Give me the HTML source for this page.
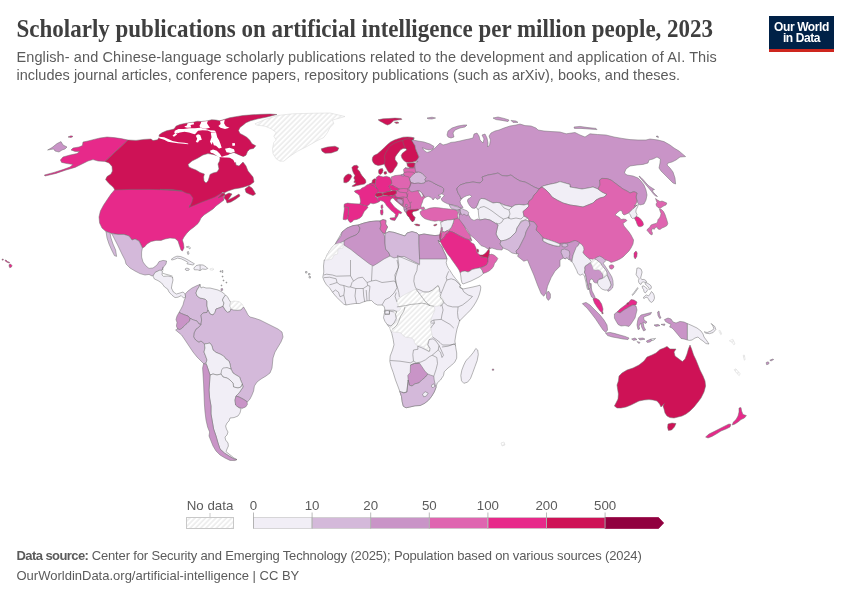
<!DOCTYPE html>
<html lang="en">
<head>
<meta charset="utf-8">
<title>Scholarly publications on artificial intelligence per million people, 2023</title>
<style>
html,body{margin:0;padding:0;background:#fff;}
body{width:850px;height:600px;position:relative;overflow:hidden;font-family:"Liberation Sans",sans-serif;color:#5b5b5b;}
#title{position:absolute;left:16.5px;top:15.5px;margin:0;font-family:"Liberation Serif",serif;font-weight:bold;font-size:23px;line-height:28px;color:#3f3f3f;white-space:nowrap;letter-spacing:0px;transform:scale(1,1.07);transform-origin:0 21.3px;}
#sub{position:absolute;left:16.5px;top:48px;margin:0;font-size:14.5px;line-height:18px;color:#5b5b5b;white-space:nowrap;}
#logo{position:absolute;left:769px;top:16px;width:65px;height:33px;background:#002147;border-bottom:3px solid #ce261e;color:#fff;font-weight:bold;font-size:12px;line-height:11.5px;text-align:center;letter-spacing:-0.4px;}
#logo span{display:block;}
#logo span:first-child{margin-top:5.7px;}
#foot{position:absolute;left:16.5px;top:546.3px;font-size:13px;line-height:20px;color:#5b5b5b;white-space:nowrap;}
#foot b{font-weight:bold;letter-spacing:-0.58px;}#f1{letter-spacing:-0.16px;}#s1{letter-spacing:0.1px;}#s2{letter-spacing:0.017px;}
svg{position:absolute;left:0;top:0;}
.lg{font-size:13.3px;fill:#5b5b5b;font-family:"Liberation Sans",sans-serif;}
</style>
</head>
<body>
<h1 id="title">Scholarly publications on artificial intelligence per million people, 2023</h1>
<p id="sub"><span id="s1">English- and Chinese-language scholarly publications related to the development and application of AI. This</span><br><span id="s2">includes journal articles, conference papers, repository publications (such as arXiv), books, and theses.</span></p>
<div id="logo"><span>Our World</span><span>in Data</span></div>
<svg id="map" width="850" height="600" viewBox="0 0 850 600">
<defs>
<pattern id="hatch" width="3.7" height="3.7" patternUnits="userSpaceOnUse" patternTransform="rotate(45)"><rect width="3.7" height="3.7" fill="#fff"/><line x1="1" y1="0" x2="1" y2="3.7" stroke="#e9e9e9" stroke-width="1.4"/></pattern>
</defs>
<!--MAP-->
<g id="countries" stroke="#6e6e6e" stroke-width="0.5" stroke-linejoin="round" fill-rule="evenodd">
<path d="M115,189.2 130,188.8 150,188.6 170,188.8 182,189.4 189,190.8 193.2,194.4 195.2,199 193,203 189,206 196,202.8 204,200 212,197 218,194 221,192.4 223.6,193.6 223.6,198 224,200 220,203 216,206 213,209 210,211 207,213 204,215 201,218 199.6,221 198,223.6 194,227 190,230 187,233 184,237 182.4,240 183.6,244 184,248 182.4,251 181,250 179.6,246 178,241 175,238.4 170,238 165,239 161,240.4 156,240.4 151,241.6 147,244 144.4,247 142.4,248 141,245 139,241 135,239 132,240 129,236 124,234.4 118,234.4 112,233.6 106,231.6 102,228 99.6,223 99,217 100.4,211 103.6,205 107.6,199 111,194 113.6,191Z" fill="#e7298a"/>
<path d="M453.5,219 457,218.5 460.5,219 463,222.5 464.5,226.5 466,229.5 468,232.5 470,235.5 471.2,238.5 470,239.5 468.5,239.5 466,239 463,237.5 459,235.5 455.5,233.5 452.5,232 449,231 450,229 451.5,227 452.5,224.5 453.5,222Z" fill="#df65b0"/>
<path d="M440.5,222.5 442,222 444,220.5 447.5,219.5 451,219 454,219 453.5,222 452.5,224.5 451.5,227 450,229 447.5,230.5 444.5,232 442.5,231.5 441.8,229 441,229 441.2,226 440.8,224Z" fill="#f1eef6"/>
<path d="M47.6,150 52,147.6 57,143.6 61,141.6 63,145 67,147 65,149 62,150 59,152 55,151 53.6,149 50,149.6Z" fill="#c994c7"/>
<path d="M68,137 71,135.8 73,136.4 71,137.6Z" fill="#e7298a"/>
<path d="M128,140 121,138.6 114,137.6 107,137 100,138 94,139.4 88,141 83,142 82.4,145.6 79,147 73,148 71,150 75,151.4 79.6,151.6 77,153.6 70,155 63,157 60.4,160 61.6,162.4 67,163.6 73,164.4 70,167 63,169.6 54,172.4 44.4,175 45,176 56,173.4 66,170 75,167.4 82,164 88,161 93,159.6 98,161 105,161.4Z" fill="#e7298a"/>
<path d="M128,140 136,140.4 144,139.4 151,139 153,140.6 153,140.6 157.5,139.8 159.3,137.2 159,135 162,132.8 166.5,130.8 171,129.8 174,129 176.2,126 180,124.5 184.5,123.5 187.5,123 193.5,122.2 197.2,121.2 201,121.5 207.8,120.8 211.5,119.7 216,120 219.8,120.8 225,119.2 229.5,117.8 235.5,116.7 243,115.5 252,114.8 261,114.3 270,114 276.9,114.5 267,117 258,118.8 250.5,120.8 246,122.7 243,125.2 240,127.5 238.5,130.5 240,133.5 243,135 246.8,137.2 249.8,140.2 252,143.7 255.8,145.8 253.5,148.5 249.8,149.2 247.5,151.5 246,155.2 243,156.8 239,155 234,152.4 229,154 227,157 235,159 236,165 239,166 243,162 246,166 248,171 253,177 254,182 250,185 244,187 240,188 234,189 228,191 222,194 218,198 224,195.6 229,193 232,194 230,197 228,200 234,197 239,194 240,196 236,199 231,202 227,203 226,200 224,198 225,194 223,192 220,194 215,197 210,199 202,202 195,205 189,207.4 190,206 192,202 193,198 190,194 186,193 182,191 172,189.4 160,189.4 182,191 170,190 150,189.4 130,189.4 115,190 113,187 109,183.6 105.6,179.6 107,176.6 111,174 112.4,171 112,166.4 109,163 105,161.4ZM188,164.4 192,161 198,158 203,155 208,153.6 213,154.4 218,156 220,158 219.6,161 218,164 219,169 217,172 213,173 210,174.4 209,178 208,181 206,183 204,181 203.6,177 204.4,174 200,172.4 196,170 192,168.4 189,167Z" fill="#ce1256"/>
<path d="M159,136.8 164.2,137.2 168.8,139.2 172.5,141 178.5,142.2 184.5,142.8 188.2,143.4 188.2,144.3 183.8,143.7 177.8,143.2 172.5,142.5 168,141.8 164.2,139.8 159.3,138.3ZM172.5,135.8 174.8,133.5 177.8,132.8 176.7,134.7 174,136.8ZM174.8,130.8 178.5,129 183.8,129 189,128.2 195,128.2 200.2,127.8 205.5,129 210,130.2 214.5,130.5 216,132 211.5,132.3 207.8,130.5 202.5,130.2 198,130.8 195,134.2 192.8,133.8 189,132.4 184.5,131.7 180,132.4 176.2,133.8 174.3,132.8ZM187.5,123.3 193.5,122.4 194.2,124.2 190.5,125 191.2,127.5 187.5,127.8 186,127.5 184.2,126.5 186.9,125.4ZM201.3,121.8 207.8,120.9 207,123.3 208.5,125.7 210,127.8 205.5,128.7 200.2,127.5 199.5,125.7 200.7,123.6ZM220.1,121.2 224.7,119.7 224.1,123.3 225.8,126.3 229.5,127.8 225,129 220.5,127.8 218.4,126 220.6,123.9ZM195.8,135.8 198,134.2 200.2,135 201,137.2 201.8,139.8 199.2,140.4 198,142.5 195.8,142.1 197.2,138.8ZM210.8,132.8 216,132.3 217.2,137.2 219,140.2 220.5,144 221.7,147.8 219,148.5 216,145.8 213.8,145.2 212.7,141.8 211.8,144.8 210,141.8 211.5,137.2ZM225,148.8 229.5,147.8 234,149.2 234.8,151.8 231,153 226.5,152.2ZM232.1,143.2 234.8,142.9 235.1,145.5 232.5,145.9ZM210,150.8 213,149.4 216.8,150.8 219.8,153.8 221.7,156.8 219.3,157.5 216,155.2 213,153.3 210.8,152.7ZM220.5,157.2 225,155.7 229.5,154.8 232.5,155.4 236.2,154.2 240,155.7 243.8,157.2 247.5,159.8 249,162.3 246,161.7 241.8,160.8 240,161.7 237.8,160.8 234.8,162.8 233.2,159.8 229.5,157.5 225,157.5Z" fill="#fff" stroke="none"/>
<path d="M245,189 249,186 252,188 254,191 255.6,194 253,195.6 249,194 246,192.4Z" fill="#ce1256"/>
<path d="M106,231.6 110,232.8 111,238 113,244 115.6,250 116.6,256.4 114.4,255.6 111.6,250 109,244 107,238Z" fill="#d4b9da"/>
<path d="M111.6,233.6 118,234.4 124,234.4 129,236 132,240 135,239 139,241 141,245 142.4,248 141.6,252 141.6,257 143,262 146,266 149,268.4 153,268 157,265 159,261.6 163,260.4 166.6,261 166,264 163.6,267 162,270 159,271 156,272 154.4,275 152,276 149,274.4 145,275 140,273.6 135,271 130,268 126,264 125,260 122.4,255 120,250 117.6,245 115,240 113,236Z" fill="#d4b9da"/>
<path d="M255,123.8 265,119.5 277.5,115.5 292.5,113.8 315,113.2 330,113 345,116.5 340,118 332.5,120 333.8,123.8 330,127.5 327.5,132.5 323.8,137.5 316.2,141.2 307.5,146.2 297.5,151.2 290,156.2 283.8,161.2 280,161.2 276.2,158.8 273,153.8 272.5,148.8 273.8,142.5 276.2,140 273.8,136.2 276.2,132.5 271.2,128.8 265,126.2 256.2,125Z" fill="url(#hatch)" stroke="#d4d4d4"/>
<path d="M321.2,148.8 327.5,147 335,146.2 338.8,148 337.5,150.8 331.2,153 325,153.2 322,151.2Z" fill="#ce1256"/>
<path d="M171.2,259.4 173.8,257.5 176.9,256.2 180.6,256.5 184.4,258.1 188.1,260 191.2,261.9 194.4,263.8 193.1,265 190,264.4 186.9,263.8 188.1,262.5 185,260.6 181.2,258.8 177.5,258.1 174.4,259.4 171.9,260Z" fill="#f1eef6"/>
<path d="M193.8,268.1 196.2,265.6 199.4,264.8 203.1,265 206.2,266.9 207.8,268.5 205.6,269.4 202.5,269 200,270.6 197.5,269.8 194.4,269.8Z" fill="#f1eef6"/>
<path d="M200,265 200.2,267.8 200,270.6" fill="none"/>
<path d="M185,269 186.9,268.1 189.4,269 188.5,270.4 186,270.4Z" fill="#f1eef6"/>
<path d="M210,268.8 212.5,268.2 214,269.2 212.5,270.2 210.2,270Z" fill="url(#hatch)" stroke="#d4d4d4"/>
<path d="M186.2,246.9 188.8,246.2 190.4,247.8 189.8,249 188.5,247.8ZM187.2,251.9 188.5,251.5 189,254 187.8,254.4Z" fill="#f1eef6"/>
<path d="M220,271 221,270.8 221,271.8 220.1,271.9ZM222,270.5 222.8,270.5 222.8,272.5 222,272.5ZM222.2,276 223,276 223,277 222.2,277ZM223.1,280 223.9,280 223.9,281 223.1,281ZM226,282.1 226.8,282.1 226.8,283 226,283ZM221.1,285 221.9,285 221.9,285.9 221.1,285.9Z" fill="#f1eef6"/>
<path d="M9.2,264.5 10.5,264 12,265.5 11.5,267 9.8,267.8 9,266ZM5,260.2 6,260 7.5,261.5 9.5,262.3 9.5,263 7.5,262.5 5.5,261.2ZM2,259.2 3.2,259 3.3,260 2.2,260.2Z" fill="#e7298a"/>
<path d="M162.5,273.1 165,274 168.8,275 172.5,276.2M163.1,280 165,280.6 167.5,279.4 170.6,278.8 173.1,277.5M166.9,288.1 169.4,288.1 171.5,288.1M172.5,291.2 173.8,293.8M162.8,266.9 162.5,270 163.5,270" fill="none"/>
<path d="M153,276 155,272.4 160,270 162.4,271 162,275 163.6,276.4 168,276 172.4,277 173,280 172,284.4 171.4,288 173.4,292 176.4,294 180,293 183,292 185.2,294 185.6,297.2 183.6,298 181.2,295.6 178,297.2 175,297.6 172,295.2 169,292 167.6,289 164.6,287 161.6,283 158,280.6 154.4,279Z" fill="#f1eef6"/>
<path d="M185.6,297.2 185.2,294 188,291 192,288 197,285.6 200,284.4 199,287 197,290 196,293 197,296 200,298 205,299 207,301 207,306 208,310 207,312.4 203,313 201,315 201.6,320 201,324.4 199,324 197,321 193.6,320 190,318.4 188,316 185,315 181.6,313.6 179,312.4 181,309 183,305 184,301Z" fill="#d4b9da"/>
<path d="M200,284.4 199,287 197,290 196,293 197,296 200,298 205,299 207,301 207,306 208,310 210,314 213,315 215,312.4 216,309 219,308 223,306.4 224,303 222.4,300 224,297 225.6,295 222,292 218,290 214,289 210,288 206,288 203,287 201,288Z" fill="#f1eef6"/>
<path d="M225.6,295 224,297 222.4,300 224,303 223,306.4 225,310 227.6,312.4 230,311.6 231,309 230,306 230.6,302 229,299.6 227.6,297Z" fill="#f1eef6"/>
<path d="M230.6,302 234,301 239,301.6 242.4,304.4 243.6,307 241,310 237,310.4 233,310 231,309 230,306Z" fill="url(#hatch)" stroke="#d4d4d4"/>
<path d="M220.9,288.8 222.5,288.5 222.8,290.2 221.2,290.8Z" fill="#c994c7"/>
<path d="M208,310 210,314 213,315 215,312.4 216,309 219,308 223,306.4 225,310 227.6,312.4 230,311.6 231,309 233,310 237,310.4 241,310 243.6,307 246,311 248,315 250,317 254,318 260,320 266,323 272,326 278,329 282,332 283,337 281,342 278,347 275,352 273,358 272.4,364 272,368 270,373 266,376 261,379 257,382 254.4,386 253.6,391 252,395 250,399 247.4,402 243,399 239,397 236,396 239,393 241,390 243,387 242.4,384 241,381 239.6,377 236,375 233,373 231,369 230,364 229,361 226,359 223.6,356 220,354 216,352.4 213,350 212,346 210,343 207,343.6 204.4,344 201,341 199,342.4 195.6,340 193.6,337 194,333 196,329 199,327 201,324.4 201.6,320 201,315 203,313 207,312.4Z" fill="#d4b9da"/>
<path d="M179,312.4 181.6,313.6 185,315 188,316 190,318.4 189.6,321 187,323.6 184.4,325.6 182.4,328 180,329.6 177.6,329 176.4,326 177,322.4 176,319.6 177,316Z" fill="#c994c7"/>
<path d="M177.6,329 180,329.6 182.4,328 184.4,325.6 187,323.6 189.6,321 190,318.4 193.6,320 197,321 199,324 201,324.4 199,327 196,329 194,333 193.6,337 195.6,340 199,342.4 201,341 204.4,344 205,348 204,352 205.6,356 207,360 206,363 204,364 201,361 197,357 193,352 189,346 185,340 181.6,335 178,332 175.6,330Z" fill="#d4b9da"/>
<path d="M204.4,344 207,343.6 210,343 212,346 213,350 216,352.4 220,354 223.6,356 226,359 229,361 230,364 231,369 227,368 223,369 221.6,374 217,375 213,374 210,375 208,369 206.4,364.4 206,363 207,360 205.6,356 204,352 205,348Z" fill="#f1eef6"/>
<path d="M223,368 227,367.6 231,369 233,373 236,375 239.6,377 241,381 242.4,384 241,387 238,388 233.6,387 233,383 230,380 227,378 223,377 221,374 221.6,370Z" fill="#f1eef6"/>
<path d="M210,375 213,374 217,375 221,374 223,377 227,378 230,380 233,383 233.6,387 238,388 241,387 242.4,384 243,387 241,390 239,393 236,396 235,400 235.6,405 238,407 241,409 240,413 238,416 234,417.6 230,418 229,421 227,423 225.6,426 226.4,429 228,432 227,435 225,437 225.6,440 228,443 228.4,446 227,449 226,451.6 229,454 234,458 237,459.6 234,459 229,456 224.4,453 220,449 218,443 216,436 213.6,429 212.4,422 211,414 211,406 209.6,398 209,390 209.6,382Z" fill="#f1eef6"/>
<path d="M203.6,363.6 206.4,364.4 208,369 210,375 209.6,382 209,390 209.6,398 211,406 211,414 212.4,422 213.6,429 216,436 218,443 220,449 224.4,453 229,456 234,459 237,459.6 235,460.6 230,460.4 225,458 220,455 216,451 213,446 211,441 209,436 209.6,432 207.6,427 206,420 205,412 204.4,404 204,394 203.6,384 203,374 202.6,368Z" fill="#c994c7"/>
<path d="M236,396 239,397 243,399 247,401.6 247.4,404.4 245.6,407 242,408.4 238,407 235.6,405 235,400Z" fill="#c994c7"/>
<path d="M391.2,176.9 395,175.6 400,175 403.1,174.8 404,172.5 403.5,169.4 405,167.8 408.1,168.5 410,167.5 408.8,165.6 406.9,163.5 410,163.1 415,163.1 416.2,167.5 417.5,172.5 420,185 422.5,192.5 425,197.5 423.1,199.4 422.5,201.9 421.2,205 421,207.5 423.8,206.9 424.8,208.8 422.5,209.8 420.6,208.8 418.1,209.4 415,209.8 413.1,211.2 411.9,213.1 413.1,215.6 415,217.5 414.4,220 412.5,221.9 410.6,219.8 409.4,217.5 407.5,215.6 406.2,212.5 404.4,210 403.8,207.5 403.1,205.6 401.2,203.8 398.8,201.9 396.2,200 394.4,198.1 392.5,197.5 391.9,195.6 395,194.8 396.5,193.1 396.2,191.2 397.5,190.6 399.4,189 397.5,188.1 395,186.9 391.9,185.6 391.2,183.1 391.5,180Z" fill="#df65b0"/>
<path d="M372.5,157.5 373.8,155.6 377.5,153.8 381.2,150.6 384.4,147.5 387.5,144.4 390.6,141.9 394.4,140 398.8,138.5 403.1,137.2 407.5,136.9 411.2,137.2 414,137.8 413.5,139.4 411.9,140.6 413.1,142.5 415,145.6 415.6,148.8 416.9,151.9 418.1,155 419,156.9 417.5,159.4 415.6,161.2 412.5,161.9 408.8,162.5 406.2,162.2 403.8,160.6 401.9,158.1 401.2,155.6 402.5,153.1 405,151.2 406.9,149.8 405.6,148.5 403.1,148.5 400.6,149.8 398.8,151.9 396.9,154.4 395.2,156.9 395,159.4 396.2,161.2 397.5,163.1 396.9,165.6 395,168.1 393.8,170 392.8,171.9 390.6,173.1 388.8,172.5 387.5,170.6 386.2,168.1 385,166 384.4,164 383.1,164.4 381.2,165 378.1,165.6 375,164.4 373.1,162.5 372.2,160Z" fill="#ce1256"/>
<path d="M384.4,164 385,160 384.4,156.2 385.6,153.1 387.5,150 388.8,147.5 391.2,145 395,142.8 399.4,141.2 402.5,140.6M406.9,149.8 405,147.5 403.8,145 403.1,142.5 402.5,140.6 405,139.4 408.8,138.5 411.9,140.6" fill="none"/>
<path d="M378.1,119.8 383.1,118.8 388.8,118.5 395,118.1 401.2,118.5 401.9,119.4 397.5,120 393.8,120.6 391.9,122.5 390,124 387.5,125 385,124 382.5,122.5 380,121.2ZM394.4,122.2 397.5,121.9 399,122.9 396.2,123.5Z" fill="#ce1256"/>
<path d="M378.8,169.8 380.6,168.8 382.5,168.5 383.1,170.6 382.2,173.1 380.6,174.4 379,173.8 378.5,171.9ZM384,171.9 386.2,171.5 386.9,173.5 385,174.4 384,173.5Z" fill="#ce1256"/>
<path d="M406.9,163.5 410,163.1 413.1,162.8 415,163.1 414.8,165.6 413.1,167.8 410,167.5 407.5,166.2Z" fill="#ce1256"/>
<path d="M351.9,167.5 353.8,165.6 356.9,165.2 358.5,166.9 357.2,169 359.4,171 360.6,173.5 361.9,175.6 364,178.1 365.6,180 366,182.5 364.4,184 360.6,184.8 356.9,185.6 353.8,186.5 351.9,186.2 354.4,184.4 356.2,183.1 353.8,182.2 355,180 353.8,178.1 355,175.6 353.5,173.1 352.5,170.6Z" fill="#ce1256"/>
<path d="M343.8,178.1 345.6,175.6 348.1,174 350.6,174.4 351.9,176.2 350.6,178.8 348.8,181.2 346.2,182.8 343.8,182.5Z" fill="#ce1256"/>
<path d="M354.4,191 356.9,190 360,189.8 361.9,188.1 364.4,186.9 366.9,185 369.4,184 371.2,183.1 373.8,185.6 375.6,187.5 378.1,188.5 378.8,189.4 378.1,191.9 376.9,193.8 375.6,195 375,196.5 376.9,197.5 377.5,200 378.8,201.9 376.2,203.1 373.1,203.8 370.6,203.1 368.8,205 366.9,206.2 364.4,205.6 361.9,204.8 360,204 360.6,201.2 360,198.1 359.4,195.6 357.5,193.8 355,192.2ZM381.2,205.2 382.5,204.8 382.9,207.5 381.9,209 381,207.5Z" fill="#e7298a"/>
<path d="M344.4,204 347.5,203.1 351.2,203.5 355,203.8 360,204 361.9,204.8 364.4,205.6 366.9,206.2 368.1,207.2 366.2,209.4 364.4,211.2 363.1,213.8 361.9,216.2 360,218.1 356.9,219.4 353.8,220 351.9,221.9 350,222.5 348.5,220.6 347.5,218.8 348.1,215 348.5,211.2 348.5,207.5 345.6,207.2 344,206Z" fill="#e7298a"/>
<path d="M344,206 345.6,207.2 348.5,207.5 348.5,211.2 348.1,215 347.5,218.8 345.6,219.8 343.1,219.4 343.5,215.6 344,211.9 344.4,208.8Z" fill="#e7298a"/>
<path d="M369.4,184 371.9,182.9 375.2,183.5 375.6,186.2 378.1,188.5 375.6,187.8 373.8,185.9 371.2,185Z" fill="#e7298a"/>
<path d="M371.9,182.9 372.5,180 374.4,178.8 376,179 375.6,181.2 375.2,183.8Z" fill="#ce1256"/>
<path d="M376.2,177.5 378.8,175.6 380.6,176.2 383.1,176.9 386.2,176.2 390,177.5 391.2,180 391.9,183.1 390.6,185 388.8,186.2 390,188.1 391.2,190 390,191.2 386.9,191.9 383.8,192.8 380.6,192.8 378.1,192.2 378.1,190 376.9,188.1 375.6,186.2 375.2,183.8 375.6,181.2 376.2,179.4Z" fill="#e7298a"/>
<path d="M388.8,186.2 390.6,185 393.1,185.6 395,186.9 397.5,188.1 399.4,189 397.5,190.6 395,191 393.1,190.6 391.2,190 390,188.1Z" fill="#e7298a"/>
<path d="M375.6,194 378.1,192.8 381.2,192.9 383.1,193.5 382.8,195.6 380,196.5 377.5,196.9 375.6,196.2Z" fill="#ce1256"/>
<path d="M383.1,193.1 386.9,192 390,191.2 393.1,190.6 396.2,191 396.5,193.1 395,194.8 391.9,195.6 388.8,196 385.6,195.6 383.1,195.2Z" fill="#ce1256"/>
<path d="M391.6,195.9 393.4,195.3 395.6,195.5 396,196.4 395.6,197 394.2,198.5 392.7,198.1 391.8,197.5Z" fill="#e7298a"/>
<path d="M394.2,198.6 395.6,196.8 397.1,197.2 398.9,197.7 400.8,197.9 402.2,198.1 402.6,199 401.1,199 398.9,199 397.1,199.2 396,199.6 397.1,200.8 398.6,202.3 400.4,203.8 402.2,205.2 403.3,206.3 402.6,206.5 401.1,205.2 399.3,203.8 397.5,202.3 395.6,200.8 394.5,199.7Z" fill="#e7298a"/>
<path d="M405.5,204.5 407,204.3 407.7,205.2 407.2,206.5 405.9,206.3Z" fill="#c994c7"/>
<path d="M377.5,197.5 380,196.9 383.1,195.8 386.2,196 389.4,196 391.9,196 392.5,198.1 390.6,199.4 390,201.2 391.9,203.8 394.4,206.9 397.5,209.4 400,211.2 401.9,212.5 401,213.8 398.8,213.1 398.1,215 396.9,217.5 395.6,218.1 395,216.2 395.6,214.4 393.8,212.5 391.2,210.6 388.8,208.1 386.5,205.6 385,203.1 383.1,201.2 380.6,200.6 378.8,201.9 377.5,200ZM390,218.1 393.1,217.8 396.2,217.2 396,218.8 394.8,220.6 391.9,220 390,219ZM380.6,210 382.8,209.4 383.1,212.5 382.5,215 381,214.8 380.4,212.5Z" fill="#e7298a"/>
<path d="M396.5,199.4 398.8,198.8 401.9,199.4 403.1,201.9 402.5,204.4 400.6,203.8 398.1,201.9Z" fill="#c994c7"/>
<path d="M403.8,207.2 405.6,206.9 406.9,209.4 406.5,212.2 405,211.9 404.1,209.8Z" fill="#c994c7"/>
<path d="M406.2,212.5 408.1,210 411.9,209.4 415,209.4 418.1,209 418.8,210 416.2,211 413.1,211.5 411.9,213.1 413.1,215.6 415,217.5 414.4,220 412.5,221.9 410.6,219.8 409.4,217.5 407.5,215.6ZM414.4,224.4 416.9,224 419.8,224.8 419.4,225.9 416.2,225.6Z" fill="#ce1256"/>
<path d="M409.4,178.8 411.9,175.6 415.6,172.5 418.8,171.9 421.9,173.1 424.4,175.6 426.2,177.5 425,179.4 425.6,181.2 424.4,183.1 421.2,183.5 418.1,183.1 414.4,183.5 411.2,182.5 409.8,180.6Z" fill="#d4b9da"/>
<path d="M409.8,186.9 411.2,182.9 414.4,183.5 418.1,183.1 421.2,183.5 424.4,183.1 425.6,181.2 428.8,180.6 431.9,181.9 435,183.8 438.8,185.6 441.9,186.9 443.8,188.8 443.5,191.9 441.9,193.8 439.4,194.8 438.1,195.4 440.6,196.2 440,198.1 437.5,199.4 435.6,198.1 435,197.5 433.1,200 431.2,197.5 428.1,196.2 425,197.5 423.8,195.6 421.9,193.1 420,191.2 418.1,190.6 415,191.2 411.9,191.9 409.4,190.6 408.8,188.8Z" fill="#c994c7"/>
<path d="M418.1,190.6 420,191.2 421.9,193.1 423.1,195.6 422.5,197.5 421.2,196.9 420,194.4 418.8,192.5Z" fill="#f1eef6"/>
<path d="M420,211.9 422.5,210 426.2,209.4 430,208.1 434.4,207.5 438.8,207.8 443.8,208.5 448.8,209 453.1,209.4 456.2,210 458.1,212.5 457.5,215.6 458.1,218.1 455,218.8 451.2,219.8 447.5,220 443.8,220.6 441.9,221.5 438.8,220.6 435,221.2 431.2,220.6 428.1,219.8 425,218.8 422.5,216.9 420.6,214.4Z" fill="#df65b0"/>
<path d="M433.5,225.2 435,224.4 436.9,224.1 436.5,225.2 434.8,226Z" fill="#ce1256"/>
<path d="M403.1,174.8 405,176 408.8,176.9 410,180 410.6,183.8 409.4,186.9 407.5,188.8 403.8,188.5 400,188.8 399.4,189M404,172.5 407.5,171.9 413.1,172.2 415,173.8M405,167.8 410,168.1 415,167.8M407.5,188.8 408.1,191.2 406.2,192.8 407.5,196.2 406.9,197.5M397.5,190.6 400,192.2 406.2,192.8M395,197.5 398.8,197.5 403.1,196.9 406.9,197.5 408.1,193.1M403.1,196.9 403.5,201.2 403.1,205.6M406.9,197.5 408.8,201.2 410,203.1 410.6,206.9 406.2,208.8 404.4,210M410,203.1 411.9,201.9M410.6,206.9 410,209.4M406.2,208.8 406.9,209.4" fill="none"/>
<path d="M413,140 418,141 424,142 430,144 434,146.4 433,149 429,150 425,149 422.4,147.6 423.6,150 427,152.4 430,151.6 435,148 438,145 440,143 443,145 447,144 451,142.4 455,142 460,141 464,140 469,139 473,138 474,134 477,133 479,136 480,140 483,143 484,139 482,135 485,134 487,138 488,143 487.6,147 489.6,145 490.4,140 489,136 491,133 495,131 499,130 504,128 510,126 516,125 520,124 525,125.6 531,126 536,128 538,130 544,131 552,131.6 560,132 566.2,133.8 575,132.5 580,135 585,137 590,133.8 597.5,134.5 606,135 614,137 622,138.4 630,139.6 638,140 646,140 650,139 658,140 664,141.6 670,145 674,148 679,151 683,154.4 685.6,156.6 680,157 676,160 672,162 668,163 667,165 670,168 673,172 675,178 675.6,184 673,183 669,179 665,175 661,171 659,168 660,163 660.4,159 657,157 653,159 649,160 648,163 643,164.4 637,165 630,166 626,169 624.4,173 627,175 633,176 638,178 641,181 644,185 646,190 647,195 646,200 644,204 640,205 638,203.6 637,201 636,197 637,193 634,191.6 630,193 627,191 623,189 619,186 615,183 611,180 607,178.6 602,178.4 599.6,180 600,185 598,189 593,187 588,188 582,189 576,188 570,187 570,184.4 565,183 560,181.6 556,183 549,184.4 543,186 539,189 534,187 529,184 525,182 520,181 515,178 511,175 507,176 502,175.6 498,173 494,174 488,175 482,177 483,180 480,183 473,182 466,183 460,185 457,188 457,190 458,193 460,196 461,199 462.5,197.5 460,201.2 460.6,203.8 463.1,207.5 460.6,208.1 457.5,206.2 453.8,205.2 450,204.4 447.5,203.8 443.8,201.9 441.9,200.6 441.2,198.8 442.5,197.5 444.4,195.6 441.9,193.8 443.5,191.9 443.8,188.8 441.9,186.9 438.8,185.6 435,183.8 431.9,181.9 428.8,180.6 425.6,181.2 425,179.4 426.2,177.5 424.4,175.6 421.9,173.1 418.8,171.9 415.6,171.9 415,167.8 415,167.8 414.8,165.6 415,163.1 416.2,162.5 418.1,161.5 415.6,161.2 417.5,159.4 419,156.9 418.1,155 416.9,151.9 415.6,148.8 415,145.6 413.1,142.5 411.9,140.6 413.5,139.4 414,137.8Z" fill="#c994c7"/>
<path d="M401,174.8 403.1,174.2 404.5,175 404,176 401.5,175.9Z" fill="#c994c7"/>
<path d="M447,135 448,131 452,128 458,126 464,125 467,125 465,127 460,128 455,130 453,133 454,137 451,138 448,137Z" fill="#c994c7"/>
<path d="M427,118 432,117.2 435.6,118 432,119 428,118.8ZM493,118 498,117 504,118.4 509,120 508,121.6 502,120.4 496,119.6ZM511,120.4 516,121 518,122.4 513,122.4ZM574,127 580,126.4 588,127.6 596,128.4 597,129.6 589,129 581,128.4 574.4,128.4ZM656,136.4 658,136 658.4,137.6Z" fill="#c994c7"/>
<path d="M457,188 460,185 466,183 473,182 480,183 483,180 482,177 488,175 494,174 498,173 502,175.6 507,176 511,175 515,178 520,181 525,182 529,184 534,187 539,189 537,192 534,195 532,199 529,201 528,204 524,205 519,204.4 515,205 512,207 508,206 504,205 500,203 497,202.4 493,203 489,201 485,199 481,198.4 479,201 477.6,205 476,207.4 474.4,208.4 472,208 470,206 468.4,203.6 467.4,201 468,199 470,198 471.6,196.4 470,195 467,195.6 464,197 461,199 460,196 458,193 457,190Z" fill="#c994c7"/>
<path d="M476,207.4 477.6,205 479,201 481,198.4 485,199 489,201 493,203 497,202.4 500,203 504,205 508,206 512,207 515,205 519,204.4 524,205 528,204 529,206 526,209 523,211.6 524,216 528,218 525,220 521,221 519,225 517,228 516,232 513,235 510,238 506,240 501,241 498,238 496,234 497,229 498,225 495,223 490,220 485,219 480,220 479,218 478.6,215 478.2,210 477,208Z" fill="#f1eef6"/>
<path d="M461,210 464,212 468,214 471,219 474,220.4 477.6,219 480,220 485,219 490,220 495,223 498,225 497,229 496,234 498,238 501,241 500,244 503,248 502,250 497,249.6 492,248 488,249 485,247 481,245.6 478,242 474,238 470,235 468,231 465,227 462,223 459,219 459,214Z" fill="#c994c7"/>
<path d="M501,241 506,240 510,238 513,235 516,232 517,228 519,225 521,222 525,220 529,221 530,225 528,228 526,232 525,236 523,240 521,244 519,248 516,251 517,254 512,253 508,250 503,248 500,244Z" fill="#d4b9da"/>
<path d="M539,189 543,186 549,184.4 556,183 560,181.6 565,183 570,184.4 570,187 576,188 582,189 588,188 593,187 598,189 602,192 607,194.4 604,197 600,198 596,200 593,203 588,205 583,207 577,206 570,205 570,205 563,203 557,200 552,197 549,193 546,190 542,187Z" fill="#f1eef6"/>
<path d="M639,176 641,177.5 643.5,180 646,183 649,186 652,188 654.5,189.5 652.5,190 653,192 655.5,194.5 657.5,196.5 655.5,196 653.5,194 651.5,191.5 649.5,189 647,186 644.5,183 642,180 639.8,177.5Z" fill="#c994c7"/>
<path d="M628.5,213 630.5,211 633,208.5 635.5,206.5 637,205 638.5,204.5 637.5,207 636.2,209.5 635.8,212 637,214.5 636.5,216.5 634.5,218 632.5,218.5 631,217 630.5,215Z" fill="#f1eef6"/>
<path d="M634.5,218 636.5,216.5 639,217.5 641,219.5 642.8,222 643.5,224.5 642.5,226 640,226.8 638.2,226.2 637,224 636.2,221.5 635.2,219.8Z" fill="#e7298a"/>
<path d="M655.5,198.5 657.5,200 660,201.5 662,201 664.5,202 666.8,203 666,205 664,205.8 662,207 660,208.5 658,207.5 656.5,206 656,204 657,202.5ZM659.5,209 661.5,209.5 663.5,211.5 665,214.5 666,217.5 667,220.5 667.8,223.5 667,225.5 664.5,227 662,228 660,229.5 658,229 657,227 655.5,227.5 654,229.5 653,228 652,229.5 651.5,231 652.5,233 652,235 650,234 648.5,232 647,230.5 647.5,229 649.5,227.5 651,225 653.5,224 656,223.5 657.5,222 658,219.5 659.5,218 660.5,216 661,213.5 660,211Z" fill="#df65b0"/>
<path d="M477.8,210 480,207.5 484,206.5 488,208.5 492,211 496,214 500,217 503.5,219M496,223 499,224 502,222 503.5,219 507,218 510,217M500,203 504,208 509,210 512,207M509,210 510,214 508,218 511,219 516,218 521,219 524,216" fill="none"/>
<path d="M528,218 524,216 523,211.6 526,209 529,206 528,204 529,201 532,199 534,195 537,192 539,189 542,187 546,190 549,193 552,197 557,200 563,203 570,205 570,205 577,206 583,207 588,205 593,203 596,200 600,198 604,197 607,194.4 602,192 598,189 600,185 599.6,180 602,178.4 607,178.6 611,180 615,183 619,186 623,189 627,191 630,193 634,191.6 637,193 636,197 637,201 636,204 634,206 637,205 635.5,206.5 633,208.5 630.5,211 628.5,213 626.5,214 624,215 622.5,213.5 622,211 620,210.5 617.5,212.5 615,215 617,216 619.5,217.5 621,219.5 623.5,219 626,219.5 627,220.5 625,222 623,223.5 624,226 626.5,229 629,232 631,235 633.6,240 633,244 631,248 629,251 626,254 623,257 620,259 617,260.4 614,261.6 611,262.4 609,261 606,260 603,259 600,257 597,258 594,260 592,259 590,259 586.4,257 583,253 581.2,249 580,245.6 579.2,243.2 579,242.4 576,241.6 573,241 570,242.4 566,243.6 561,244 560,244 554,241.6 548,239.6 543,238 540,234 536,230 537,226 534,222 529,221Z" fill="#df65b0"/>
<path d="M634,253 636,251 637.2,253 636.8,256.4 635.2,259 634,257Z" fill="#e7298a"/>
<path d="M529,221 534,222 537,226 536,230 540,234 543,238 543,241 548,243.6 554,245.6 559.6,246.4 560,244 560,243.4 563,243 567.5,243 572,241.9 575,240.4 578,241.5 579.5,243 578.4,245.2 576.9,247.5 575.4,250.5 573.9,253.5 572.8,256.5 572,259.5 571.2,261.8 570.5,259.9 570.1,259.5 569,259.9 567.1,257.6 565.2,258.8 563.4,258 561.5,259.1 560,259.9 560,266.2 555,271.2 551.2,277.5 547.5,286.2 546.2,292.5 543.8,296.2 541.2,293.8 537.5,285 533.8,275 530,266.2 527.5,260 523.8,261.2 517.5,256.2 518.8,253.8 517,254 516,251 519,248 521,244 523,240 525,236 526,232 528,228 530,225Z" fill="#c994c7"/>
<path d="M543,238 548,239.6 554,241.6 560,244 559.6,246.4 554,245.6 548,243.6 543,241Z" fill="#f1eef6"/>
<path d="M561.9,244.1 564.5,243.4 567.5,244.1 567.9,246 565.2,247.1 562.2,246.6Z" fill="#d4b9da"/>
<path d="M561.5,249.8 564.5,249 567.5,250.1 569.4,251.2 569.8,254.2 569,257.2 570.1,259.5 569,259.9 567.1,257.6 565.2,258.8 563.4,258 562.2,255 561.1,252.4Z" fill="#d4b9da"/>
<path d="M579.5,243 581.8,244.5 583.6,247.1 584,249.8 582.9,252.4 584.4,254.6 587,256.9 588.9,258.8 590.8,260.6 591.5,261.8 589.6,263.2 587.4,264.8 585.5,265.9 584.8,267.8 585.1,270 584.4,272.2 585.5,274.5 586.2,277.5 586.6,280.5 587.4,283.5 587.9,286.5 588.5,289.5 587.6,289.5 586.6,286.5 585.9,282 585.1,279 584.4,276 583.2,274.5 582.5,274.1 580.2,275.2 578.8,274.5 577.6,273 576.9,270.8 575,267 573.1,263.2 572,262.1 572.4,258.8 573.1,255 574.6,251.2 576.1,247.5 578.4,245.2Z" fill="#f1eef6"/>
<path d="M585.5,265.9 587.4,264.8 589.6,263.2 591.5,264 592.6,266.2 593.4,269.2 595.2,270 598.2,269.6 600.5,270.8 602,273 603.1,276 602.8,278.2 600.9,279 599,279.4 597.9,280.9 597.5,283.1 595.2,282.8 593.8,282 593,279.8 591.5,279 590,279.8 589.6,282 590,285 590.4,288 588.5,289.5 587.9,286.5 587.4,283.5 586.6,280.5 586.2,277.5 585.5,274.5 584.4,272.2 585.1,270 584.8,267.8ZM589.2,283.6 591.2,283.6 591.4,288 592,291 593.6,294 595,297 594,299 591.6,297 590,293 589.2,288Z" fill="#c994c7"/>
<path d="M591.5,261.8 593,259.5 594.5,258.8 596.8,259.9 599,261.8 600.9,263.2 602,265.5 603.9,267.8 605.8,270 606.9,272.2 606.5,275.2 605,276.8 603.5,276 603.1,273 602,273 600.5,270.8 598.2,269.6 595.2,270 593.4,269.2 592.6,266.2 591.5,264Z" fill="url(#hatch)" stroke="#d4d4d4"/>
<path d="M594.5,258.8 596.8,257.2 599.8,256.1 602,257.2 604.2,258.8 605.8,260.6 604.6,262.1 603.1,263.2 605,265.9 607.2,269.2 609.5,273 611.8,276.8 612.9,280.5 613.2,285 612.5,288 610.2,290.2 608,291.4 607.6,289.9 609.5,288 611,285 610.2,282 608.8,279 607.6,276 606.9,272.2 605.8,270 603.9,267.8 602,265.5 600.9,263.2 599,261.8 596.8,259.9Z" fill="#d4b9da"/>
<path d="M597.9,280.9 599,279.4 600.9,279 602.8,278.2 605,276.8 606.5,275.2 607.6,276 608.8,279 610.2,282 611,285 609.5,288 607.6,289.9 605,290.2 602,289.1 599.8,287.2 598.2,285 597.5,283.1Z" fill="#f1eef6"/>
<path d="M609.1,265.9 611,264.8 612.9,265.1 614,266.2 613.4,268.1 611.8,269.2 609.9,268.5Z" fill="#df65b0"/>
<path d="M546.4,293 548.4,291 550.4,294 550.4,298 548.4,300.4 546.6,298Z" fill="#c994c7"/>
<path d="M593,299 595.6,298 599,300 601.6,304 603,309 602.4,313 600,311 597,307 594.4,303ZM617,312 620,309 624,306 628,303 631,299.6 634,300 637,302 636,305 633,305 629,307 624,310 620,313Z" fill="#e7298a"/>
<path d="M626.8,303.2 628.4,302.6 628.8,304.2 627.4,304.6Z" fill="#ce1256"/>
<path d="M601.8,312.8 603,312.4 603.2,313.6 602,313.8Z" fill="#ce1256"/>
<path d="M582.4,303.6 586,302.4 590,305 595,310 600,315 604,320 607,325 607.6,330 605.6,332.4 603,330 599.6,325 595.6,319 591,313 587,308 583.6,305ZM605.6,333 610,332.4 615,333.6 620,335 625,336.4 629,338 628,339.6 623,339 618,338 612.4,337 607.6,335.6ZM631.6,339 635,338 637,339.6 633.6,340.4ZM638.4,338.4 643,338 645,339.2 640,340ZM637,341.6 640,342.4 639,343.6ZM646.4,341 651,339 651.6,340.8 650,342 647.2,342.4ZM614.4,314 617,312 620,313 624,310 629,307 633,305 636,306 637,310 636,314 635,318 633,321 631,324 629,326.4 625,325.6 621,326 618,324.4 616,321 614.4,318ZM638.4,318 641,315 645,314 649,313 651.6,312.4 650.4,314.4 646.4,316 643.6,317 644,320 647,322 645.6,323.6 643,322 644,327 645.6,330 643.6,331 641.6,327 641,323 639,326 639.6,329 638,329.6 637,325 637.6,321ZM657.6,312 659,311 659.6,315 661,318 659.6,318.4 658,315.6ZM654,325 658,324.4 660,325.6 656,326.4ZM661,324.4 665,324 664.4,325.6ZM664.4,319.6 668,318 671,319 673,322 676,323 680,321.4 684,322 687.4,323.6 687.4,340 684,339 681,338.4 679,336 676,332.4 674,330 672,328 669.6,327 671,324.4 668,323 665.6,321.6Z" fill="#c994c7"/>
<path d="M651,339 655.6,338.4 654,340 651.6,340.8Z" fill="#f1eef6"/>
<path d="M687.4,323.6 692,325.6 697,328 701,331 703,334 704,337 707,341 709,344 706,343.6 703,341 700,339 698,337 695,338 692,340 689.6,340.4 687.4,340ZM704.2,331.8 707.2,332.5 711,331 714,328.8 712.5,325 711,323.5 714.8,326.5 715.8,329.5 713.2,332.5 709.5,333.7 705.8,333.2Z" fill="#f1eef6"/>
<path d="M636.9,268.2 638.8,267.9 641,269 642.1,272 641.4,275 640.6,278 641.8,279.6 644,279.4 645.9,280.6 646.6,282.1 645.1,282.5 643.2,281.8 641.8,282.5 641,284.4 639.9,284 638.8,282.5 638.4,280.6 639.1,278.8 637.6,276.9 636.1,274.6 636.6,271.2ZM645.9,282.5 648.1,283.6 650.4,285.1 651.5,287 650.8,288.9 649.6,289.6 648.9,288.1 647.8,286.6 646.2,285.1 645.1,283.9ZM642.1,286.2 644,285.9 645.5,287.4 647,288.5 648.1,289.6 647,290.8 646.2,292.2 645.1,293 644,291.5 643.6,289.6 642.5,288.1ZM648.5,296 650,294.1 651.5,291.5 653,293 654.1,295.2 654.5,298.2 653.4,300.9 651.5,302.4 649.6,301.2 648.5,299 647,297.1 645.5,297.5 644,298.6 643.2,297.9 644.8,296 646.6,294.9ZM632,294.9 633.9,292.6 635.8,290 637.6,287.6 638,288.5 636.1,291.1 634.2,293.8 632.4,295.4Z" fill="#f1eef6"/>
<path d="M619,376 622,373 627,370 633,368 639,365 644,361 647,357 652,355 656,353 660,349.6 664,348 667,346.4 670,349 676,349 674,352 675,356 679,359 682.4,361.6 685,359 687,354 688.4,349 690,345 691.6,349 693.6,355 696,360 698,365 700,370 703,376 705,381 705.6,386 704,392 701,398 698,402 694,407 690,411 686,414 682,416 678,417 674,418 670,417.6 667,416 665,413 664,409 663,406 664.4,403.6 661,407 659.6,404 657,401 653,400 649,399.6 644,400 639,401 635,403 631,405 626,407 621,408 617,408 614.4,406 616,403 618,399 618.4,394 617.6,389 617,385 618.4,381ZM668,424 672,423 676,423.6 674.4,427 671.6,430 668.4,430.4 667.6,427.6Z" fill="#ce1256"/>
<path d="M739,408 741,407.6 741.6,411 743,414.4 746.4,415.6 744.4,418 741,419.6 738,422 735,424 732.4,425 733,422.4 736,419.6 738,416 739,412ZM705.6,437 709,434 714,431.6 719,429 724,426.4 729,424 731,424.4 730,427 726,429 721,431 717,433.6 712,436.4 708,438Z" fill="#e7298a"/>
<path d="M766.2,362.5 768,361.8 769.2,362.8 768.3,364.3 766.5,364.6ZM769.8,360.2 772.5,359.1 773.7,359.5 771,361Z" fill="#c994c7"/>
<path d="M734.2,369.7 735.8,368.8 740.2,373.8 739.2,375.6 736.5,373ZM718.8,330.7 720,330.2 721.8,334 720.8,334.8ZM729.3,340.8 732.8,339.2 735,343.8 733.8,344.8 732,342.2ZM743.2,355.3 744.3,355 745.2,359.5 744.3,360.2ZM501,443 504,442 505,445 502,446Z" fill="url(#hatch)" stroke="#d4d4d4"/>
<path d="M305.5,271.5 307,271.5 307,273 305.5,273ZM308.5,273.5 310,273.5 310,275 308.5,275ZM309,276.5 310.5,276.5 310.5,278 309,278Z" fill="#f1eef6"/>
<path d="M335,244.4 342,232 347,228 353,225.6 358,225 364,223 370,221.6 376,221 380,221 383,219.6 386,220.4 385.6,224 387.6,227 386,230 385,233.6 389,231.6 394,232.4 400,234.4 405,236 407,233 412,231.6 417,233 419,235 424,234 430,235 435,235.6 440,235 441,239 440,242 438,240 439,243 442,247 443.6,251 445.6,255 447,259 446.2,262.5 447,265.5 448.5,268.5 450,270.5 451.8,273.5 453.5,276 455.5,278.5 457.5,281 459.5,283.5 460.5,285 459.5,286.5 460.5,288 463,289 467,288.2 472,287.2 477,286 480,285.2 480.8,287 480.5,290 479.5,294 478,298 476,302 473.5,306 470.5,310 467,313.5 463.5,317 460,320.5 459.7,320 458.5,324.5 457,329 455.8,335 454.9,341 455.8,347.8 456.7,353 456.7,358.2 454.8,362 451.8,365 448,368 444.2,371.8 443.5,375.5 440.5,380 437.2,383 436,387.5 434.2,392 431.5,396.5 428.5,400.2 424.8,403.2 420.2,405.5 415,405.8 409.8,407 406,407.8 403.3,406.2 402.2,401.8 401.5,396.5 399.7,391.2 397.8,386 395.5,380 393.2,372.5 391,366.5 389.8,361.2 390.2,356 392.5,350 394,344.8 393.2,339.5 391.8,333.5 390.2,329 391.8,330.5 389.5,327.5 387.2,324.5 385,321.5 383.5,317.8 384.2,314 385,310.2 384.2,306.5 382,305 377.5,305 374.5,303.5 371.5,300.5 367,300.8 363.2,302 359.5,303.5 355,303.5 350.5,304.2 346,305 343.8,304.2 340,300.5 336.2,296.8 332.5,292.2 329.5,287.8 326.5,284.8 324.2,281 322.8,277.2 323.8,272 323.5,266 324.2,260 325,260 327,255 330,250 333.6,245.6Z" fill="#f1eef6"/>
<path d="M342,232 347,228 353,225.6 358,225 360,228 359,232 356,235 351,237 347,239 344,241 339.6,243 335,244.4 338,240 341,236Z" fill="#c994c7"/>
<path d="M325,260 327,255 330,250 333.6,245.6 335,244.4 339.6,243 343,244 343,248 338,249 337.6,254 334,255 332,259 328,260Z" fill="url(#hatch)" stroke="#d4d4d4"/>
<path d="M358,225 364,223 370,221.6 376,221 380,221 381,225 380,229 383,233 385,237 385,243 385.6,249 389,253 390,256 384,259 378,263 373,266 369,263.6 363,259 357,254.4 351,249.6 344,245 344,241 347,239 351,237 356,235 359,232 360,228Z" fill="#c994c7"/>
<path d="M380,221 383,219.6 386,220.4 385.6,224 387.6,227 386,230 385,233.6 383,233 380,229 381,225Z" fill="#df65b0"/>
<path d="M385,233.6 389,231.6 394,232.4 400,234.4 405,236 407,233 412,231.6 417,233 419,235 419,243 419.6,258 419.6,264.4 414,261.6 404,256.4 398,257 394,258 390,256 389,253 385.6,249 385,243 385,237Z" fill="#d4b9da"/>
<path d="M419,235 424,234 430,235 435,235.6 440,235 441,239 440,242 438,240 439,243 442,247 443.6,251 445.6,255 447,259 419.6,259 419,243Z" fill="#c994c7"/>
<path d="M396.9,301.9 398.1,298.8 401.9,296.2 406.2,293.8 410,291.9 413.8,290 416.2,289.4 418.1,291.9 420,293.8 423.1,291.9 426.9,292.5 430.6,291.2 433.8,289.4 436.2,287.5 438.1,285.6 439.4,288.1 438.8,291.2 440,294.4 441.9,297.5 443.8,300.6 442.5,303.8 440,305.6 436.9,306.2 433.8,306.2 435,309.4 433.8,312.5 432.5,315.6 431.2,318.8 430.6,322.5 431,326.2 431.2,330 431.9,333.8 432.5,336.9 430,338.8 428.1,341.2 427.5,345 429.4,348.1 430.6,350.6 428.8,351.2 426.2,349.4 423.1,346.9 420,345.6 416.2,345 414.4,342.5 413.8,340 411.9,338.1 408.8,337.5 405.6,337.2 403.1,335.6 401.2,333.1 398.8,332.5 395.6,332.2 392.5,331.9 390.6,330 389.4,328.1 391.9,324.4 395,322.5 396.9,320 396.2,316.2 395,313.8 393.8,311.9 396.2,310.6 398.8,311.2 400.6,308.8 398.8,306.9 397.5,304.4Z" fill="url(#hatch)" stroke="#d4d4d4"/>
<path d="M396.9,306.9 405.6,305.6 411.2,304.4 417.5,303.8 421.9,303.1 425.6,303.8 430,305.6 433.8,306.2M416.2,289.4 421.9,296.9 425.6,301.9 430,305.6M405,306.9 403.8,311.2 400.6,316.2 398.8,321.2 396.9,325 393.8,328.1 391.9,329.4" fill="none"/>
<path d="M410.5,365 414.2,363.5 419.5,363.2 421.8,366.5 424.8,371 427.8,374 425.5,377 421.8,380 418.8,383 415,383.8 412,386 409.3,385.2 408.2,380 407.8,375.5 410.2,372.5Z" fill="#c994c7"/>
<path d="M399.7,391.2 401.5,396.5 402.2,401.8 403.3,406.2 406,407.8 409.8,407 415,405.8 420.2,405.5 424.8,403.2 428.5,400.2 431.5,396.5 434.2,392 436,387.5 435.2,384.5 434.2,380 433.8,376.2 430.8,375.2 427.8,374 425.5,377 421.8,380 418.8,383 415,383.8 412,386 409.3,385.2 408.2,380 407.5,386 406.8,392 403.8,392.8 401.5,392Z" fill="#d4b9da"/>
<path d="M422.5,394.2 425.2,391.7 428.2,393.2 426.2,396.2 423.7,396.8Z" fill="#f1eef6"/>
<path d="M431.8,384.8 433.8,383.8 434.8,386 433,387.8 431.5,386.8Z" fill="#f1eef6"/>
<path d="M460.8,375.5 461.8,370.2 463.8,365 466,360.5 469.8,356.8 473.5,352.2 475.8,348.5 477.7,350 478.3,354.5 477.2,360.5 475,366.5 472.8,372.5 470.5,378.5 467.5,382.2 463.8,383.3 461.5,380.8Z" fill="#f1eef6"/>
<path d="M492.3,369 493.7,369 493.7,370.3 492.3,370.3Z" fill="#df65b0"/>
<path d="M441.2,234 442.5,231.5 444.5,232 447.5,230.5 449,231 448,233 446,234 445,236 443.5,238 441.5,239.5 440.5,240 440.8,237Z" fill="#df65b0"/>
<path d="M439.5,235 440.5,231.5 441.5,231.2 441.2,234 440.8,237 440.2,240 439.5,238Z" fill="#e7298a"/>
<path d="M441,229 442,227 442.5,229 441.8,231.2 440.6,231.4Z" fill="#df65b0"/>
<path d="M470,238.5 471.5,239 471.8,241 470.5,240.5Z" fill="#df65b0"/>
<path d="M440.5,240 441.5,239.5 443.5,238 445,236 446,234 448,233 449,231 452.5,232 455.5,233.5 459,235.5 463,237.5 466,239 468.5,239.5 470,240.5 471,242.5 474,244 475.5,247 476.5,249.5 477,252.5 478.5,254 480,255 480,256 481.5,256.8 484,257 486.5,257.5 488,258.5 488,262 487,264.5 484,266.5 480,267.8 476,268.5 472,269.5 470,271 468,272 465,271 462,271.5 460.2,273 459,270 457,267 454.5,263.5 452,260 450,257 447.5,254 445,250 442.5,246 440.5,242 440,241.5Z" fill="#e7298a"/>
<path d="M477,249.5 478,249 478.6,250.5 478.5,252.2 477.5,252.5 477,251Z" fill="#ce1256"/>
<path d="M480,255 482.5,255 484.5,254 486.5,252 488,250 489,249 489.5,251 489.2,254 488.8,256.5 488,258.5 486.5,257.5 484,257 481.5,256.8 480,256Z" fill="#ce1256"/>
<path d="M482,270 480,267.8 484,266.5 487,264.5 488,262 488,258.5 488.8,256.5 489.2,254 490,255 491,254 494,255 496.5,257 497.8,258.5 496.5,261 494.5,263.5 493.5,266.5 491.5,269 489,271 486,272.5 483.2,273.5ZM489,247.8 489.7,247.2 490,249 489.4,249.2Z" fill="#df65b0"/>
<path d="M460.2,273 462,271.5 465,271 468,272 470,271 472,269.5 476,268.5 480,267.8 482,270 483.2,273.5 482,275 479,277 475,279 471,281 467,282.5 463,284 462,283 461.2,279.5 460.8,276Z" fill="#f1eef6"/>
<path d="M350.5,260 350.5,275.8 336.2,276.2 332.5,275 326.5,274.2 323.8,275M323.8,277.7 329.5,277.2 336.2,278.8 337,282.5 332.5,284 329.5,284.8M337,282.5 340,284.8 343.8,285.5 344.5,290 343.8,295.2 346,305M332.5,292.2 335.5,290 338.5,292.2 340,296.8 343.8,295.2M350.5,275.8 353.5,281 358,278 362.5,277.2 367,282.5 371.5,281 372.2,267.5 372.2,266M343.8,285.5 348.2,287 350.5,287 355.8,288.5 363.2,288.5 367.8,285.5 370,286.2M350.5,287 352,282.5 353.5,281M355.8,288.5 355,296 356.5,303.5M363.2,288.5 363.7,296 364.8,302M366.2,290 367,300.8M370,286.2 369.2,293 369.2,300.5M367,282.5 367.8,285.5M371.5,281 376,280.2 382,282.5 388,281.8 394,281 396.2,282.5M396.2,282.5 394.8,275 398.5,267.5 397,260M396.2,282.5 397,287.8 394,293 389.5,297.5 385,299.8 382,305M384.2,310.2 394,310.2 397,311.8M385,314 389.5,314 389.5,310.7M387.2,324.5 391,326 394,323 396.2,318.5 395.5,314 397,311.8" fill="none"/>
<path d="M397.5,255.6 419.4,265M417.5,265 416.9,270.6 414.4,276.2 413.8,281.2 415,286.2 416.2,288.8M397.5,255.6 398.8,265 396.9,272.5 395,278.8 395.6,282.5 397.5,287.5 398.8,292.5 399.4,296.9M416.2,288.8 420,290 423.8,291.9 428.8,291.9 432.5,290 436.2,286.9 438.1,285.6 439.4,288.1 440,291.9 441.2,293.1M441.2,293.1 443.1,288.8 445,283.8 446.9,280 446.2,277.5 447.5,273.8 448.8,271.2M446.9,280 451.2,278.8 455,280 458.1,283.1 460.6,285.6M461.9,288.1 463.8,291.9 468.1,295 472.5,296.5 467.5,301.2 462.5,305 458.1,306.9M441.2,293.1 440,296.9 442.5,300 443.8,302.5 447.5,305.6 452.5,306.9 458.1,306.9 457.5,312.5 458.1,318.1 460,321.2M443.8,302.5 441.9,305 440,306.2M441.9,305 443.1,310 441.9,315 441.2,319.4M460.6,285.6 460,287.5 461.9,288.1" fill="none"/>
<path d="M441.2,319.4 433.8,320 431.2,321.2 430.6,322.5M433.8,320 434.4,323.1 432.5,325.6 430.6,328.1M431.2,323.1 434.4,323.1M441.2,319.4 450,324.4 453.8,328.1M432.5,336.9 436.9,340 440,342.5 442.5,345 450,345 455.6,343.8M383.8,311.2 387.5,310.6 393.8,311.9M385,311.2 385,314.4 389.4,314.4 389.4,311.2M396.9,301.9 395,296.2 396.2,292.5" fill="none"/>
<path d="M390.2,360.5 400,361.2 410.5,362.8 413.5,361.2 416.5,362.8M413.5,361.2 412.8,354.5 413.5,350 418,349.2 417.7,346.2M416.5,362.8 421,362 425.5,359.8 429.2,356.8 432.2,355.2M432.2,355.2 436.8,357.5 437.5,363.5 436,369.5 433.8,376.2M417.7,346.2 421.8,347.8 426.2,350 429.2,351.5 430,348.5 427.8,344.8 429.2,339.5 433,338.8 436,341M436,341 439,345.5 438.2,350 432.2,355.2M439,345.5 441.2,350 443.5,355.2 442,357.5 440.5,352.2 438.2,350M442,347 448,346.2 454,344 455.5,345.5M410.5,365 414.2,363.5 419.5,363.2M408.2,380 407.5,386 406.8,392 403.8,392.8 401.5,392" fill="none"/>
<path d="M449,204.5 451.5,205 454.5,206 458,207 461,208.2 460,209.8 457.5,210 455,209.5 452.5,209 450.5,207.5Z" fill="#d4b9da"/>
<path d="M460,209.8 461,208.2 462.5,208.8 464.5,209.8 467,210.8 468.8,212.5 468,214.5 467,216 465.5,215 464,214 462.5,215 461,214 460,212Z" fill="#d4b9da"/>
<path d="M457.5,210 460,209.8 460,212 461,214 459.5,214.8 458.5,212.5Z" fill="#c994c7"/>
</g>
<!--/MAP-->
<g id="legend">
<text class="lg" x="210" y="510" text-anchor="middle">No data</text>
<rect x="186.5" y="517.5" width="47" height="11" fill="url(#hatch)" stroke="#c8c8c8" stroke-width="1"/>
<line x1="210" y1="513" x2="210" y2="517" stroke="#bbb" stroke-width="0.8"/>
<g stroke="#c8c8c8" stroke-width="0.7">
<rect x="253.5" y="517.5" width="58.6" height="11" fill="#f1eef6"/>
<rect x="312.1" y="517.5" width="58.6" height="11" fill="#d4b9da"/>
<rect x="370.7" y="517.5" width="58.6" height="11" fill="#c994c7"/>
<rect x="429.3" y="517.5" width="58.6" height="11" fill="#df65b0"/>
<rect x="487.9" y="517.5" width="58.6" height="11" fill="#e7298a"/>
<rect x="546.5" y="517.5" width="58.6" height="11" fill="#ce1256"/>
<path d="M605.1 517.5H658.5L663.7 523L658.5 528.5H605.1Z" fill="#91003f" stroke="#91003f"/>
</g>
<g stroke="#a8a8a8" stroke-width="0.8">
<line x1="253.5" y1="512.5" x2="253.5" y2="528.5"/><line x1="312.1" y1="512.5" x2="312.1" y2="528.5"/><line x1="370.7" y1="512.5" x2="370.7" y2="528.5"/><line x1="429.3" y1="512.5" x2="429.3" y2="528.5"/><line x1="487.9" y1="512.5" x2="487.9" y2="528.5"/><line x1="546.5" y1="512.5" x2="546.5" y2="528.5"/><line x1="605.1" y1="512.5" x2="605.1" y2="528.5"/>
</g>
<text class="lg" x="253.5" y="510" text-anchor="middle">0</text>
<text class="lg" x="312.1" y="510" text-anchor="middle">10</text>
<text class="lg" x="370.7" y="510" text-anchor="middle">20</text>
<text class="lg" x="429.3" y="510" text-anchor="middle">50</text>
<text class="lg" x="487.9" y="510" text-anchor="middle">100</text>
<text class="lg" x="546.5" y="510" text-anchor="middle">200</text>
<text class="lg" x="605.1" y="510" text-anchor="middle">500</text>
</g>
</svg>
<div id="foot"><span id="f1"><b>Data source:</b> Center for Security and Emerging Technology (2025); Population based on various sources (2024)</span><br><span id="f2">OurWorldinData.org/artificial-intelligence | CC BY</span></div>
</body>
</html>
